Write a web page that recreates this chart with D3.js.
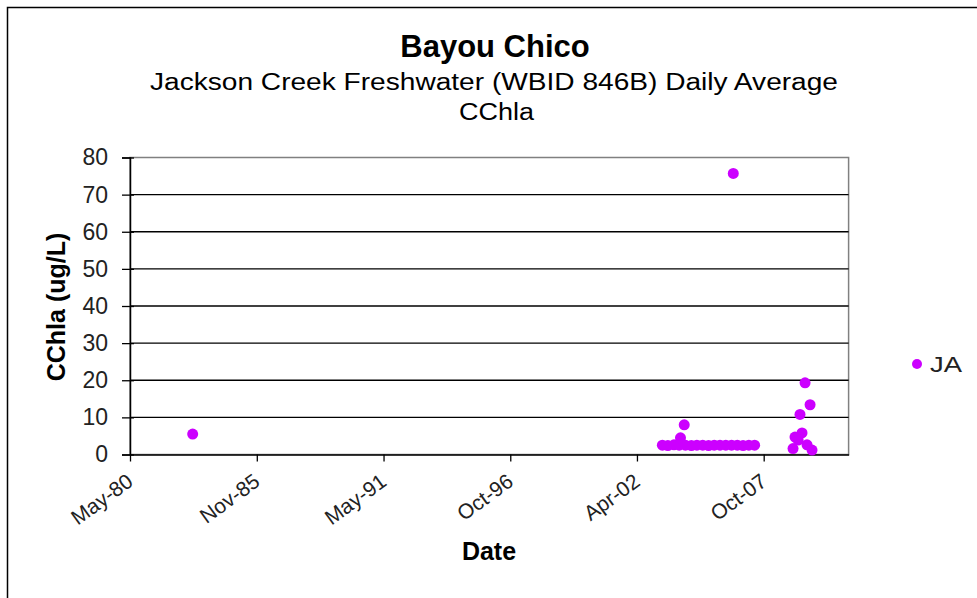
<!DOCTYPE html>
<html><head><meta charset="utf-8">
<script src="https://cdn.jsdelivr.net/npm/d3@7"></script>
<style>body{margin:0;background:#fff}svg{display:block}text{font-family:"Liberation Sans",Arial,sans-serif}</style>
</head><body>
<svg id="c" width="977" height="598"></svg>
<script>
const titleText = "Bayou Chico";
const subtitleText = "Jackson Creek Freshwater (WBID 846B) Daily Average";
const subtitle2Text = "CChla";
const xLabel = "Date";
const yLabel = "CChla (ug/L)";
const seriesName = "JA";

const dates = [
  "1983-02-02",
  "2003-05-20","2003-08-15","2003-11-20","2004-02-10","2004-03-01","2004-04-29","2004-05-18","2004-08-20","2004-11-15",
  "2005-02-15","2005-05-18","2005-08-16","2005-11-15","2006-02-14","2006-05-16","2006-06-12","2006-08-15","2006-11-14","2007-02-13","2007-05-15",
  "2009-01-10","2009-02-10","2009-04-01","2009-04-30","2009-06-01","2009-07-19","2009-08-19","2009-10-06","2009-11-06"
];
const values = [
  5.5,
  2.5,2.4,2.6,2.5,4.5,8.0,2.5,2.4,2.5,
  2.5,2.4,2.5,2.5,2.5,2.5,75.7,2.5,2.4,2.5,2.5,
  1.6,4.7,3.9,10.8,5.8,19.3,2.6,13.4,1.2
];
const xDomain = ["1980-05-19","2011-06-06"];
const xTickDates = ["1980-05-19","1985-11-10","1991-05-03","1996-10-23","2002-04-14","2007-10-05"];
const xTickLabels = ["May-80","Nov-85","May-91","Oct-96","Apr-02","Oct-07"];
const yTicks = [0,10,20,30,40,50,60,70,80];

const parse = d3.timeParse("%Y-%m-%d");
const svg = d3.select("#c");
const L = 130, R = 848.6, T = 157.5, B = 454.5;
const x = d3.scaleTime().domain(xDomain.map(parse)).range([L, R]);
const y = d3.scaleLinear().domain([0, 80]).range([B, T]);
const color = "#cc00ff";

// outer frame
svg.append("rect").attr("x",7.5).attr("y",7.5).attr("width",1000).attr("height",620)
  .attr("fill","none").attr("stroke","#000").attr("stroke-width",1.5);

// titles
svg.append("text").attr("x",495).attr("y",57).attr("text-anchor","middle")
  .attr("font-size",31).attr("font-weight","bold").text(titleText);
svg.append("text").attr("x",494).attr("y",90).attr("text-anchor","middle")
  .attr("font-size",23).attr("textLength",688).attr("lengthAdjust","spacingAndGlyphs").text(subtitleText);
svg.append("text").attr("x",496.5).attr("y",120).attr("text-anchor","middle")
  .attr("font-size",23).attr("textLength",75).attr("lengthAdjust","spacingAndGlyphs").text(subtitle2Text);

// plot border
svg.append("rect").attr("x",L).attr("y",T).attr("width",R-L).attr("height",B-T)
  .attr("fill","none").attr("stroke","#808080").attr("stroke-width",1.5);

// gridlines
svg.append("g").selectAll("line").data(yTicks.filter(d=>d>0&&d<80)).join("line")
  .attr("x1",L).attr("x2",R).attr("y1",d=>y(d)).attr("y2",d=>y(d))
  .attr("stroke","#000").attr("stroke-width",1.3);

// y axis
const yAxis = svg.append("g").attr("transform",`translate(${L},0)`)
  .call(d3.axisLeft(y).tickValues(yTicks).tickSize(8).tickPadding(15));
yAxis.select(".domain").attr("stroke","#000").attr("stroke-width",1.5);
yAxis.selectAll(".tick line").attr("x2",4).attr("x1",-8).attr("stroke","#000").attr("stroke-width",1.3);
yAxis.selectAll(".tick text").attr("font-size",23).attr("fill","#222").attr("x",-22)
  .style("font-family","'Liberation Sans',Arial,sans-serif");

// x axis
const xAxis = svg.append("g").attr("transform",`translate(0,${B})`)
  .call(d3.axisBottom(x).tickValues(xTickDates.map(parse))
    .tickFormat((d,i)=>xTickLabels[i]).tickSize(7).tickSizeOuter(0));
xAxis.select(".domain").attr("stroke","#000").attr("stroke-width",1.5);
xAxis.selectAll(".tick line").attr("stroke","#000").attr("stroke-width",1.3);
xAxis.selectAll(".tick text").attr("font-size",21).attr("fill","#222")
  .attr("text-anchor","end").attr("y",0).attr("dy",0)
  .attr("transform","translate(4,30) rotate(-36)")
  .style("font-family","'Liberation Sans',Arial,sans-serif");

// axis titles
svg.append("text").attr("x",489).attr("y",560).attr("text-anchor","middle")
  .attr("font-size",25).attr("font-weight","bold").text(xLabel);
svg.append("text").attr("transform","translate(65,307) rotate(-90)").attr("text-anchor","middle")
  .attr("font-size",25).attr("font-weight","bold").text(yLabel);

// points
svg.append("g").selectAll("circle").data(dates.map((d,i)=>({d:parse(d),v:values[i]}))).join("circle")
  .attr("cx",d=>x(d.d)).attr("cy",d=>y(d.v)).attr("r",5.5).attr("fill",color);

// legend
svg.append("circle").attr("cx",917).attr("cy",364).attr("r",5).attr("fill",color);
svg.append("text").attr("x",930).attr("y",372).attr("font-size",22).attr("fill","#222")
  .attr("textLength",32).attr("lengthAdjust","spacingAndGlyphs").text(seriesName);
</script>
</body></html>
